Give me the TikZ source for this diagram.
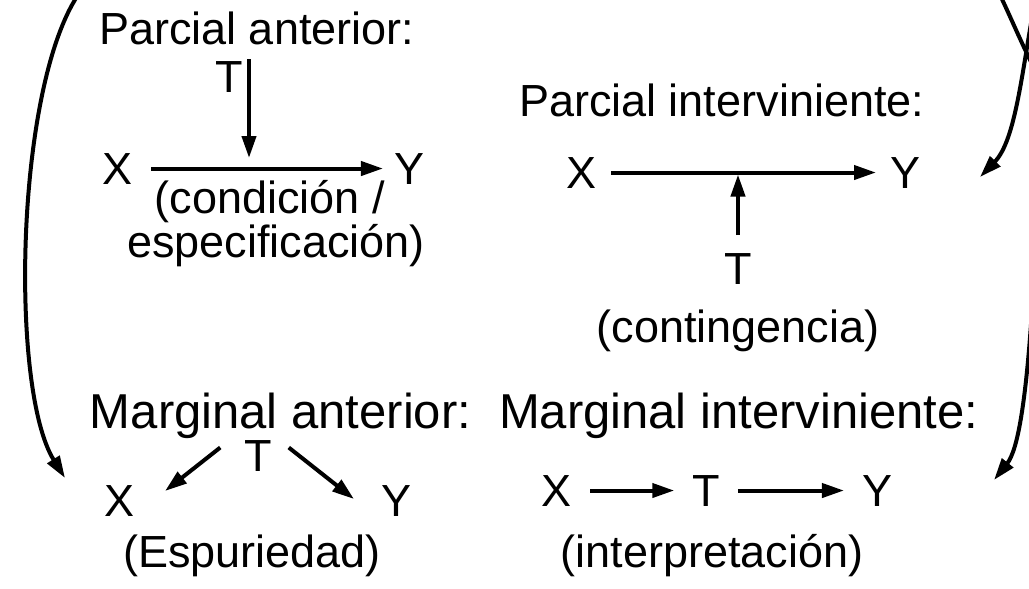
\documentclass[tikz,border=0pt]{standalone}
\usepackage{fontspec}
\setmainfont{Liberation Sans}
\usetikzlibrary{arrows.meta}

\begin{document}
\begin{tikzpicture}[x=0.5pt, y=-0.5pt, line width=2pt,
    every node/.style={font=\fontsize{22.5}{26}\selectfont, inner sep=0pt},
    title/.style={anchor=base west},
    bigtitle/.style={anchor=base west, font=\fontsize{24.5}{28}\selectfont},
    lbl/.style={anchor=base},
    arr/.style={-{Triangle[length=11pt, width=7pt]}}]
    \useasboundingbox (0,0) rectangle (1029,589);
    \clip (0,0) rectangle (1029,589);

    % parcial anterior
    \node[title] (titleA) at (97,44) {Parcial anterior:};
    \node[lbl] (TA) at (229,92) {T};
    \node[lbl] (XA) at (118,184) {X};
    \node[lbl] (YA) at (410,184) {Y};
    \node[lbl] (condA) at (270,213) {(condición /};
    \node[lbl] (espA) at (276,257) {especificación)};
    \coordinate (mA) at (249,168);
    \draw[arr] ([xshift=8pt]XA.east) -- ([xshift=-5pt]YA.west |- XA.center);
    \draw[arr] (mA |- TA.north) -- ([yshift=5pt]mA);

    % parcial interviniente
    \node[title] (titleB) at (517,116) {Parcial interviniente:};
    \node[lbl] (XB) at (582,188) {X};
    \node[lbl] (YB) at (905,188) {Y};
    \node[lbl] (TB) at (738,284) {T};
    \node[lbl] (contB) at (738,342) {(contingencia)};
    \draw[arr] ([xshift=6pt]XB.east) -- ([xshift=-6pt]YB.west);
    \draw[arr] ([yshift=8pt]TB.north) -- ([yshift=-1pt]TB.north |- XB.center);

    % marginal anterior
    \node[bigtitle] (titleC) at (88,428) {Marginal anterior:};
    \node[lbl] (TC) at (258,471) {T};
    \node[lbl] (XC) at (120,516) {X};
    \node[lbl] (YC) at (397,516) {Y};
    \node[lbl] (espC) at (252,567) {(Espuriedad)};
    \draw[arr] ([shift={(-22,-8)}]TC.west) -- ([shift={(28,8)}]XC.north east);
    \draw[arr] ([shift={(15,-8)}]TC.east) -- ([shift={(-26,16)}]YC.north west);

    % marginal interviniente
    \node[bigtitle] (titleD) at (497,428) {Marginal interviniente:};
    \node[lbl] (XD) at (557,506) {X};
    \node[lbl] (TD) at (706,506) {T};
    \node[lbl] (YD) at (877,506) {Y};
    \node[lbl] (intD) at (712,567) {(interpretación)};
    \draw[arr] ([xshift=8pt]XD.east) -- ([xshift=-8pt]TD.west);
    \draw[arr] ([xshift=8pt]TD.east) -- ([xshift=-8pt]YD.west);

    % curved links, cut by the frame
    \coordinate (inC) at (65,478);
    \coordinate (inB) at (980,177);
    \coordinate (inD) at (994,480);
    \draw[arr] (78,-5) .. controls (15,90) and (10,390) .. (inC);
    \draw (1000,-5) .. controls (1012,20) and (1022,45) .. (1040,80);
    \draw[arr] (1036,-5) .. controls (1022,70) and (1016,140) .. (inB);
    \draw[arr] (1032,310) .. controls (1026,400) and (1018,450) .. (inD);

\end{tikzpicture}
\end{document}
